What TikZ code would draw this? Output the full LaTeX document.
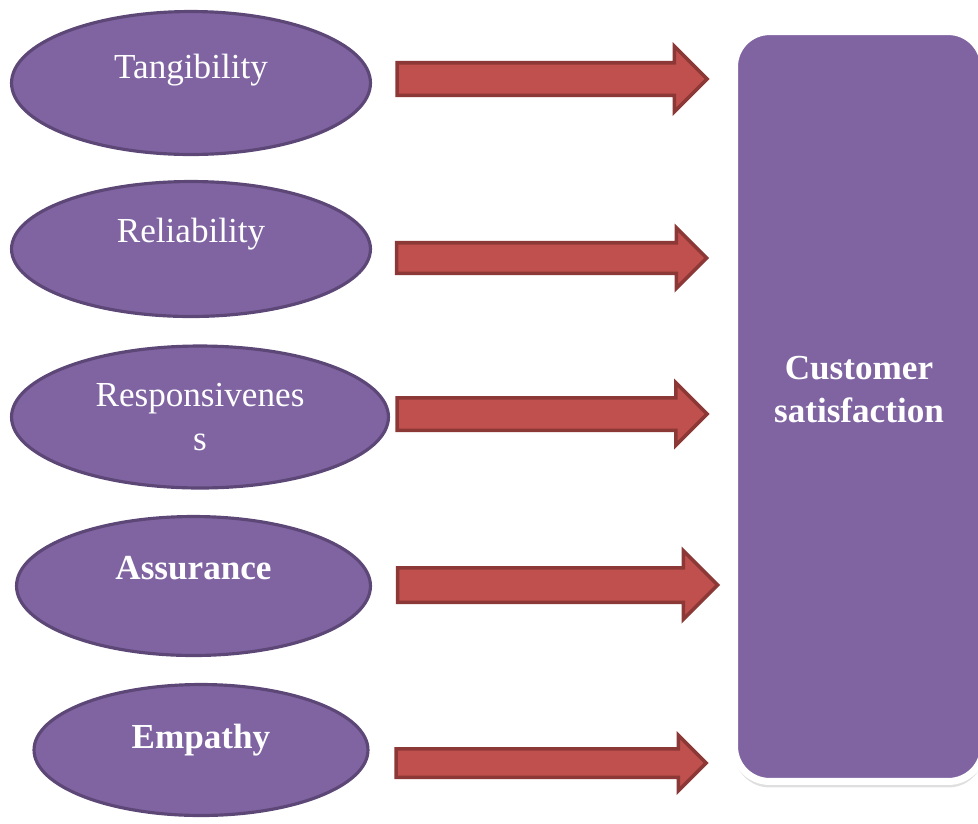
\documentclass[tikz,border=0pt]{standalone}
\usepackage{fontspec}
\setmainfont{Liberation Serif}
\usetikzlibrary{shapes.geometric,shapes.arrows,shadows}
\definecolor{dimpurple}{RGB}{128,100,162}
\definecolor{dimedge}{RGB}{92,71,118}
\definecolor{flowred}{RGB}{192,80,77}
\definecolor{flowedge}{RGB}{140,56,54}

\begin{document}
\begin{tikzpicture}[
      x=0.02cm, y=-0.02cm,
      dim/.style={ellipse,draw=dimedge,line width=1.8pt,fill=dimpurple,inner sep=0pt},
      dimtext/.style={text=white,font=\fontsize{20}{25}\selectfont,align=center,inner sep=0pt},
      flow/.style={single arrow,draw=flowedge,line width=2pt,fill=flowred,
                   inner xsep=0pt,inner ysep=0.28cm,single arrow tip angle=90,
                   single arrow head extend=0.32cm,minimum height=6.2cm},
      outcome/.style={rectangle,rounded corners=0.7cm,fill=dimpurple,draw=white,line width=4pt,
                      drop shadow={shadow xshift=0pt,shadow yshift=-0.12cm,opacity=0.25,fill=black!50}}
  ]
    \useasboundingbox (0,0) rectangle (978,823);
    \clip (0,0) rectangle (978,823);

    % service quality dimensions
    \node[dim,minimum width=7.18cm,minimum height=2.86cm] (tang) at (191,83) {};
    \node[dimtext] (tangtxt) at ([yshift=0.26cm]tang.center) {Tangibility};

    \node[dim,minimum width=7.18cm,minimum height=2.70cm] (reli) at (191,249) {};
    \node[dimtext] (relitxt) at ([yshift=0.3cm]reli.center) {Reliability};

    \node[dim,minimum width=7.54cm,minimum height=2.84cm] (resp) at (200,417) {};
    \node[dimtext] (resptxt) at (resp.center) {Responsivenes\\s};

    \node[dim,minimum width=7.08cm,minimum height=2.78cm] (assu) at (193.5,586) {};
    \node[dimtext,font=\fontsize{20}{25}\selectfont\bfseries] (assutxt) at ([yshift=0.36cm]assu.center) {Assurance};

    \node[dim,minimum width=6.68cm,minimum height=2.62cm] (empa) at (201,750) {};
    \node[dimtext,font=\fontsize{20}{25}\selectfont\bfseries] (empatxt) at ([yshift=0.2cm]empa.center) {Empathy};

    % outcome box, runs off the right edge
    \node[outcome,minimum width=4.98cm,minimum height=15cm] (cs) at (859,406.5) {};
    \node[dimtext,font=\fontsize{20}{24.5}\selectfont\bfseries] (cstxt) at ([yshift=0.34cm]cs.center) {Customer\\satisfaction};

    % block arrows
    \node[flow,inner ysep=0.29cm,single arrow head extend=0.33cm] (a1) at (544,79) {};
    \node[flow,inner ysep=0.27cm,single arrow head extend=0.30cm] (a2) at (544,258) {};
    \node[flow,inner ysep=0.29cm,single arrow head extend=0.30cm] (a3) at (544,414) {};
    \node[flow,inner ysep=0.31cm,single arrow head extend=0.34cm,minimum height=6.4cm] (a4) at (549,585) {};
    \node[flow,inner ysep=0.25cm,single arrow head extend=0.27cm] (a5) at (544,763) {};
  \end{tikzpicture}
\end{document}
